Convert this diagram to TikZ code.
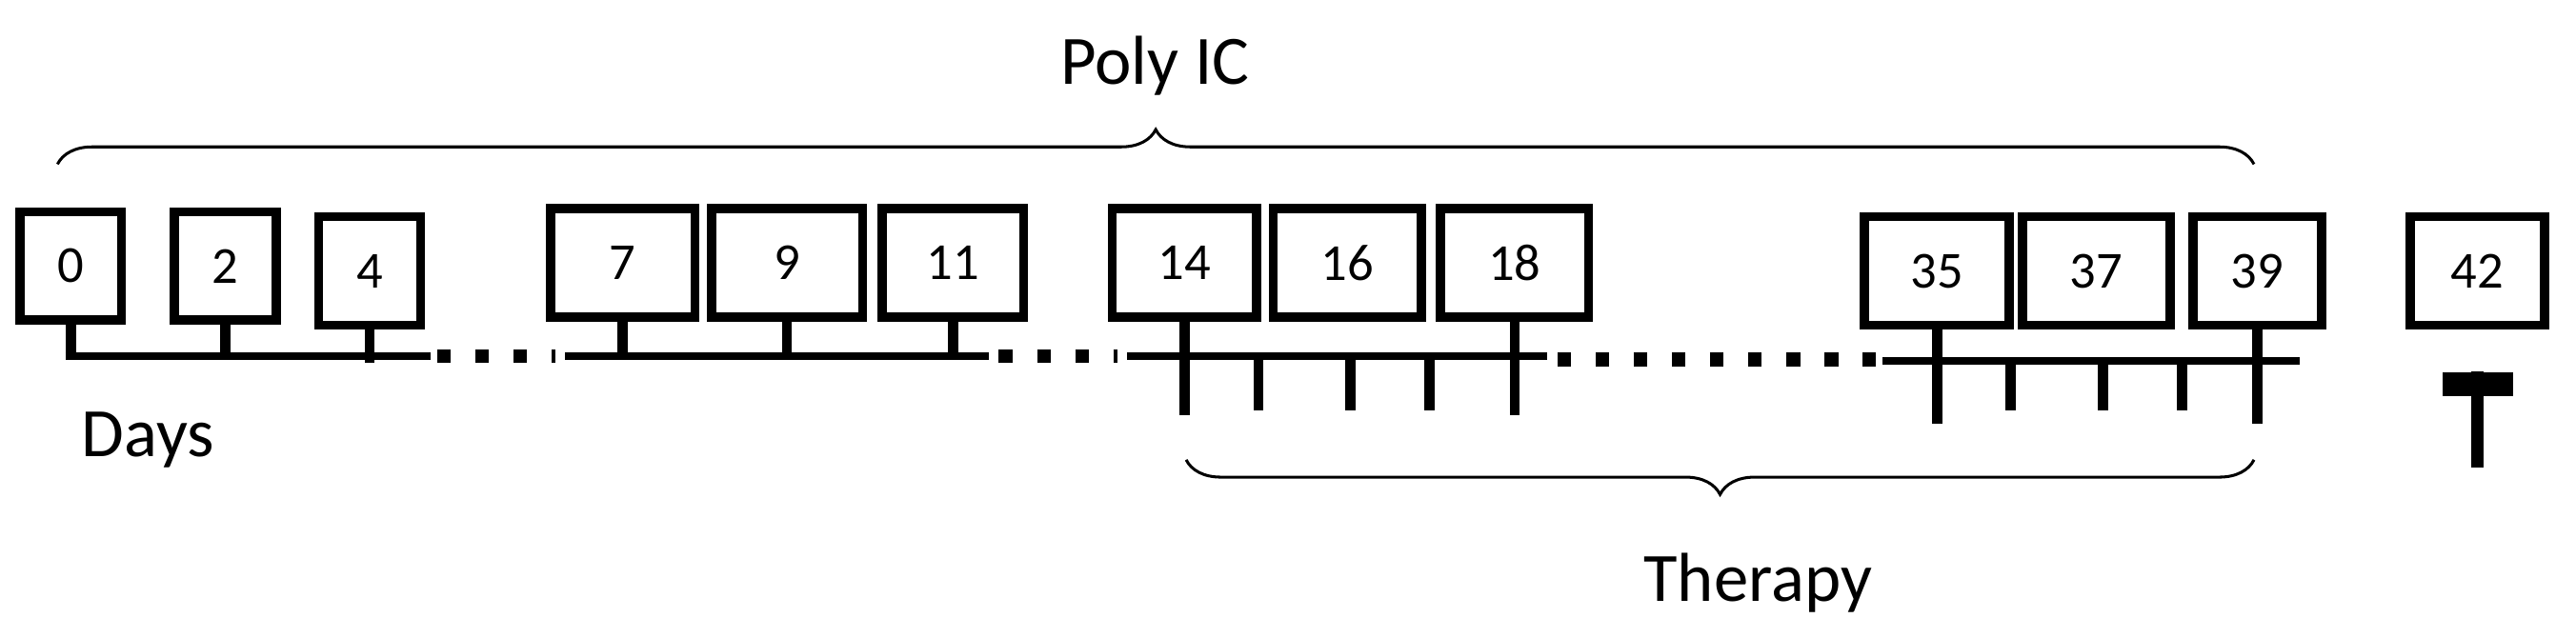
\documentclass[tikz,border=0pt]{standalone}
\usepackage{fontspec}
\setmainfont{Carlito}
\usetikzlibrary{positioning, decorations.pathreplacing}

\begin{document}
\begin{tikzpicture}[
    x=0.01cm, y=-0.01cm,
    day/.style={draw, line width=1.6pt, minimum width=#1, minimum height=0.66cm, inner sep=0pt, font=\small},
    day/.default=0.62cm,
    axis/.style={line width=1.3pt},
    dots/.style={line width=2.4pt, dash pattern=on 2.4pt off 4.2pt},
    tick/.style={line width=1.8pt},
    grp/.style={decorate, decoration={brace, amplitude=6pt}, line width=0.5pt}
]
\useasboundingbox (0,0) rectangle (1568,388);

% Tage
\node[day] (d0) at (43,162) {0};
\node[day] (d2) at (137,162) {2};
\node[day] (d4) at (225,165) {4};
\node[day=0.88cm] (d7) at (379,160) {7};
\node[day=0.92cm] (d9) at (479,160) {9};
\node[day=0.86cm] (d11) at (580,160) {11};
\node[day=0.88cm] (d14) at (721,160) {14};
\node[day=0.90cm] (d16) at (820,160) {16};
\node[day=0.90cm] (d18) at (922,160) {18};
\node[day=0.88cm] (d35) at (1179,165) {35};
\node[day=0.90cm] (d37) at (1276,165) {37};
\node[day=0.78cm] (d39) at (1374,165) {39};
\node[day=0.82cm] (d42) at (1508,165) {42};

% Achse
\coordinate (a0) at (40,217);
\coordinate (a1) at (262,217);
\coordinate (b0) at (344,217);
\coordinate (b1) at (602,217);
\coordinate (c0) at (686,217);
\coordinate (c1) at (942,217);
\coordinate (e0) at (1146,220);
\coordinate (e1) at (1400,220);
\draw[axis] (a0) -- (a1);
\draw[axis] (b0) -- (b1);
\draw[axis] (c0) -- (c1);
\draw[axis] (e0) -- (e1);
\draw[dots] (266,217) -- (338,217);
\draw[dots] (608,217) -- (680,217);
\draw[dots] (948,219) -- (1142,219);

% Stiele
\foreach \d in {d0,d2,d4,d7,d9,d11}
  \draw[tick] (\d.south) -- ++(0,20);
\foreach \d in {d14,d18,d35,d39}
  \draw[tick] (\d.south) -- ++(0,57);
\foreach \x in {766,822,870}
  \draw[tick] (\x,217) -- (\x,250);
\foreach \x in {1224,1280,1328}
  \draw[tick] (\x,220) -- (\x,250);

% Kreuz
\coordinate (k0) at (1508,226);
\coordinate (k1) at (1508,285);
\draw[tick, line width=2pt] (k0) -- (k1);
\draw[line width=4pt] (1487,234) -- (1530,234);

% Klammern
\draw[grp] (35,100) -- (1372,100);
\draw[grp] (1372,280) -- (722,280);
\node[font=\large] (poly) at (703,40) {Poly IC};
\node[font=\large] (ther) at (1070,355) {Therapy};
\node[font=\large] (days) at (90,268) {Days};
\end{tikzpicture}
\end{document}
